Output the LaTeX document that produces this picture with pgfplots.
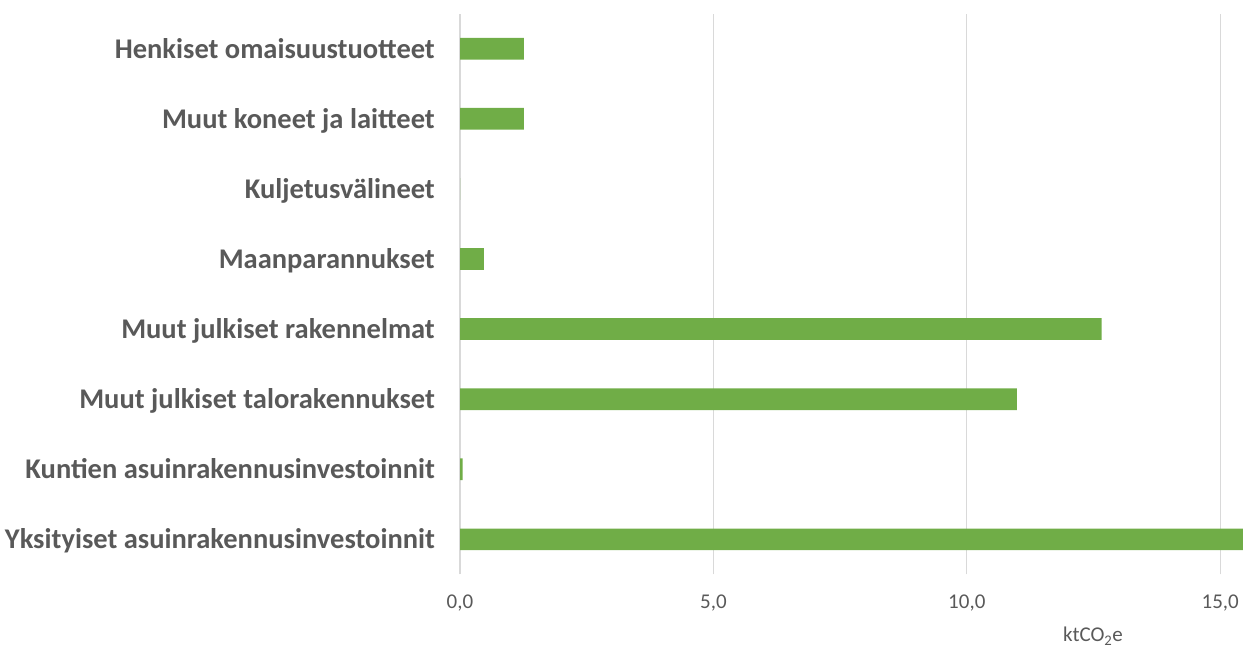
\documentclass[border=0pt]{standalone}
\usepackage{pgfplots}
\pgfplotsset{compat=1.18}
\usepackage{fontspec}
\setmainfont{Carlito}
\definecolor{bargreen}{HTML}{70AD47}
\definecolor{labgray}{HTML}{595959}
\definecolor{gridgray}{HTML}{D9D9D9}
\begin{document}
\begin{tikzpicture}
\path[use as bounding box] (0,0) rectangle (1243bp,648bp);
\begin{axis}[
  at={(460bp,73.6bp)}, anchor=south west,
  scale only axis,
  width=783bp, height=560.7bp,
  xbar, bar width=21.7bp,
  xmin=0, xmax=15.45,
  ymin=-0.5, ymax=7.5,
  axis line style={draw=none},
  major tick length=0pt,
  xtick={5,10,15},
  extra x ticks={0},
  extra x tick style={grid style={draw=gridgray, line width=1.8bp}},
  /pgf/number format/.cd, fixed, fixed zerofill, precision=1, use comma, assume math mode=true,
  /pgfplots/.cd,
  xmajorgrids,
  grid style={draw=gridgray, line width=1bp},
  xticklabel style={font=\fontsize{21bp}{25bp}\selectfont, color=labgray, anchor=base, inner sep=0pt, yshift=-34bp},
  ytick={0,1,2,3,4,5,6,7},
  yticklabels={Yksityiset asuinrakennusinvestoinnit,Kuntien asuinrakennusinvestoinnit,Muut julkiset talorakennukset,Muut julkiset rakennelmat,Maanparannukset,Kuljetusvälineet,Muut koneet ja laitteet,Henkiset omaisuustuotteet},
  yticklabel style={font=\bfseries\fontsize{28.5bp}{34bp}\selectfont, color=labgray, anchor=base east, inner sep=0pt, xshift=-25bp, yshift=-9.3bp},
  xlabel={ktCO\textsubscript{2}e},
  xlabel style={at={(axis description cs:0.8084,0)}, anchor=base, inner sep=0pt, yshift=-67.5bp, font=\fontsize{21bp}{25bp}\selectfont, color=labgray},
]
\addplot[fill=bargreen, draw=none] coordinates {
  (15.45,0) (0.05,1) (10.99,2) (12.66,3) (0.47,4) (0,5) (1.26,6) (1.26,7)
};
\end{axis}
\end{tikzpicture}
\end{document}
